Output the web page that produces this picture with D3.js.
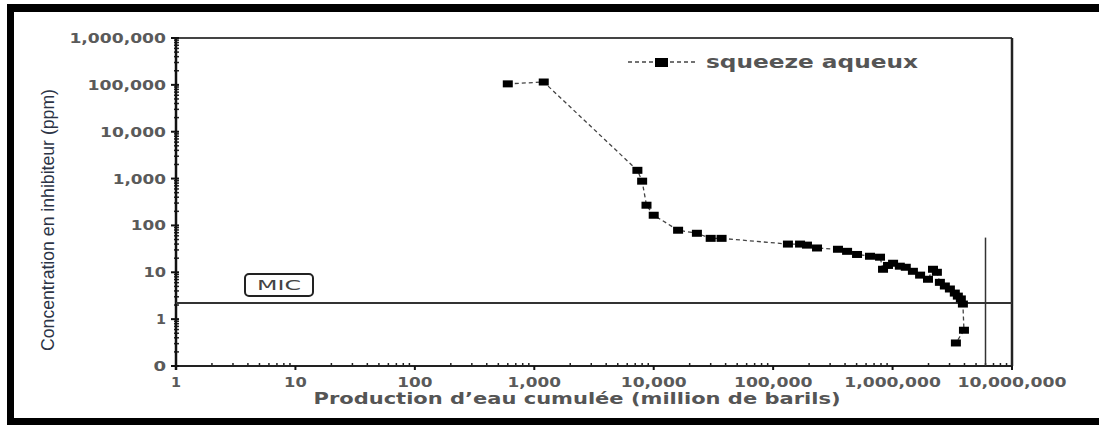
<!DOCTYPE html>
<html>
<head>
<meta charset="utf-8">
<script src="https://cdn.jsdelivr.net/npm/d3@7"></script>
<style>
  body { margin: 0; background: #fff; }
  svg { display: block; }
</style>
</head>
<body>
<svg width="1099" height="425"></svg>
<script>
// data (x = cumulated water, y = inhibitor ppm)
var prodEau = [600, 1200, 7300, 8000, 8700, 10000, 16000, 23000, 30000, 37000,
  133000, 168000, 192000, 233000, 349000, 416000, 504000, 647000, 785000,
  832000, 916000, 1010000, 1150000, 1290000, 1480000, 1700000, 1980000,
  2180000, 2350000, 2490000, 2740000, 3020000, 3320000, 3520000, 3730000,
  3880000, 3960000, 3390000];
var concentration = [105000, 115000, 1500, 880, 270, 165, 79, 68, 53, 53,
  40, 40, 38, 33, 31, 28, 24, 22, 21,
  11.6, 14, 15.6, 13.5, 12.8, 10.5, 8.7, 7.1,
  11.6, 10, 6.1, 5.1, 4.4, 3.6, 3.1, 2.7,
  2.1, 0.58, 0.31];

var xTicks = [1, 10, 100, 1e3, 1e4, 1e5, 1e6, 1e7];
var xTickLabels = ["1", "10", "100", "1,000", "10,000", "100,000", "1,000,000", "10,000,000"];
var yTicks = [0.1, 1, 10, 100, 1e3, 1e4, 1e5, 1e6];
var yTickLabels = ["0", "1", "10", "100", "1,000", "10,000", "100,000", "1,000,000"];

var micValue = 2.2;          // MIC horizontal line
var finVolume = 6000000;     // vertical line
var finTop = 55;

var svg = d3.select("svg");
var pLeft = 176, pRight = 1012, pTop = 38, pBottom = 366;

var x = d3.scaleLog().domain([1, 1e7]).range([pLeft, pRight]);
var y = d3.scaleLog().domain([0.1, 1e6]).range([pBottom, pTop]);

// outer black frame (left, top, bottom)
svg.append("rect").attr("x", 7).attr("y", 4).attr("width", 1092).attr("height", 8).attr("fill", "#000");
svg.append("rect").attr("x", 7).attr("y", 4).attr("width", 7).attr("height", 421).attr("fill", "#000");
svg.append("rect").attr("x", 7).attr("y", 418).attr("width", 1092).attr("height", 7).attr("fill", "#000");

// plot box top and right
svg.append("line").attr("x1", pLeft).attr("x2", pRight).attr("y1", pTop).attr("y2", pTop)
  .attr("stroke", "#444").attr("stroke-width", 2);
svg.append("line").attr("x1", pRight).attr("x2", pRight).attr("y1", pTop).attr("y2", pBottom)
  .attr("stroke", "#222").attr("stroke-width", 2.5);

// minor ticks
var minorX = [], minorY = [];
for (var e = 0; e < 7; e++) {
  for (var k = 2; k < 10; k++) minorX.push(k * Math.pow(10, e));
}
for (var e2 = -1; e2 < 6; e2++) {
  for (var k2 = 2; k2 < 10; k2++) minorY.push(k2 * Math.pow(10, e2));
}
svg.append("g").selectAll("line").data(minorX).enter().append("line")
  .attr("x1", function(d) { return x(d); }).attr("x2", function(d) { return x(d); })
  .attr("y1", pBottom).attr("y2", pBottom - 3)
  .attr("stroke", "#222").attr("stroke-width", 1.5);
svg.append("g").selectAll("line").data(minorY).enter().append("line")
  .attr("x1", pLeft - 2).attr("x2", pLeft + 3)
  .attr("y1", function(d) { return y(d); }).attr("y2", function(d) { return y(d); })
  .attr("stroke", "#222").attr("stroke-width", 1.5);

// axes lines
svg.append("line").attr("x1", pLeft).attr("x2", pRight).attr("y1", pBottom).attr("y2", pBottom)
  .attr("stroke", "#222").attr("stroke-width", 2);
svg.append("line").attr("x1", pLeft).attr("x2", pLeft).attr("y1", pTop - 1).attr("y2", pBottom + 4)
  .attr("stroke", "#111").attr("stroke-width", 2.5);

// major ticks
svg.append("g").selectAll("line").data(xTicks).enter().append("line")
  .attr("x1", function(d) { return x(d); }).attr("x2", function(d) { return x(d); })
  .attr("y1", pBottom).attr("y2", pBottom + 4)
  .attr("stroke", "#111").attr("stroke-width", 2);
svg.append("g").selectAll("line").data(yTicks).enter().append("line")
  .attr("x1", pLeft - 5).attr("x2", pLeft + 3)
  .attr("y1", function(d) { return y(d); }).attr("y2", function(d) { return y(d); })
  .attr("stroke", "#111").attr("stroke-width", 2);

// tick labels: wide, grey type
function labelWidth(s) {
  var n = 0;
  for (var i = 0; i < s.length; i++) n += (s[i] === "," ? 5.5 : (s[i] === "1" ? 10 : 12.6));
  return n;
}
var tickFont = "'DejaVu Sans', sans-serif";
svg.append("g").selectAll("text").data(xTicks).enter().append("text")
  .attr("x", function(d) { return x(d); })
  .attr("y", 387)
  .attr("text-anchor", "middle")
  .attr("textLength", function(d, i) { return labelWidth(xTickLabels[i]); })
  .attr("lengthAdjust", "spacingAndGlyphs")
  .style("font-family", tickFont).style("font-size", "14px").style("font-weight", "bold")
  .attr("fill", "#5a5a5a")
  .text(function(d, i) { return xTickLabels[i]; });
svg.append("g").selectAll("text").data(yTicks).enter().append("text")
  .attr("x", pLeft - 10)
  .attr("y", function(d) { return y(d) + 5; })
  .attr("text-anchor", "end")
  .attr("textLength", function(d, i) { return labelWidth(yTickLabels[i]); })
  .attr("lengthAdjust", "spacingAndGlyphs")
  .style("font-family", tickFont).style("font-size", "14px").style("font-weight", "bold")
  .attr("fill", "#5a5a5a")
  .text(function(d, i) { return yTickLabels[i]; });

// axis titles
svg.append("text")
  .attr("x", 577).attr("y", 404)
  .attr("text-anchor", "middle")
  .attr("textLength", 527).attr("lengthAdjust", "spacingAndGlyphs")
  .style("font-family", tickFont).style("font-size", "16px").style("font-weight", "bold")
  .attr("fill", "#555")
  .text("Production d\u2019eau cumulée (million de barils)");
svg.append("text")
  .attr("transform", "translate(54,220) rotate(-90)")
  .attr("text-anchor", "middle")
  .attr("textLength", 262).attr("lengthAdjust", "spacingAndGlyphs")
  .style("font-family", "'Liberation Sans Narrow', 'Liberation Sans', sans-serif").style("font-size", "18px")
  .attr("fill", "#2b3345")
  .text("Concentration en inhibiteur (ppm)");

// MIC line and label
svg.append("line").attr("x1", pLeft).attr("x2", pRight).attr("y1", y(micValue)).attr("y2", y(micValue))
  .attr("stroke", "#333").attr("stroke-width", 2);
svg.append("rect").attr("x", 245).attr("y", 274).attr("width", 68).attr("height", 22).attr("rx", 4)
  .attr("fill", "#fff").attr("stroke", "#222").attr("stroke-width", 2);
svg.append("text").attr("x", 279).attr("y", 290).attr("text-anchor", "middle")
  .attr("textLength", 44).attr("lengthAdjust", "spacingAndGlyphs")
  .style("font-family", tickFont).style("font-size", "14px").attr("fill", "#444")
  .text("MIC");

// vertical line
svg.append("line").attr("x1", x(finVolume)).attr("x2", x(finVolume))
  .attr("y1", y(finTop)).attr("y2", pBottom)
  .attr("stroke", "#333").attr("stroke-width", 1.5);

// series
var pts = prodEau.map(function(v, i) { return [v, concentration[i]]; });
var line = d3.line().x(function(d) { return x(d[0]); }).y(function(d) { return y(d[1]); });
svg.append("path").datum(pts).attr("d", line)
  .attr("fill", "none").attr("stroke", "#444").attr("stroke-width", 1.3)
  .attr("stroke-dasharray", "4,3");
svg.append("g").selectAll("rect").data(pts).enter().append("rect")
  .attr("x", function(d) { return x(d[0]) - 5; })
  .attr("y", function(d) { return y(d[1]) - 3.5; })
  .attr("width", 10).attr("height", 7)
  .attr("fill", "#000");

// legend
svg.append("line").attr("x1", 628).attr("x2", 695).attr("y1", 62).attr("y2", 62)
  .attr("stroke", "#444").attr("stroke-width", 1.5).attr("stroke-dasharray", "4,3");
svg.append("rect").attr("x", 655).attr("y", 58).attr("width", 13).attr("height", 9).attr("fill", "#000");
svg.append("text").attr("x", 706).attr("y", 68)
  .attr("textLength", 212).attr("lengthAdjust", "spacingAndGlyphs")
  .style("font-family", tickFont).style("font-size", "18px").style("font-weight", "bold")
  .attr("fill", "#555")
  .text("squeeze aqueux");
</script>
</body>
</html>
